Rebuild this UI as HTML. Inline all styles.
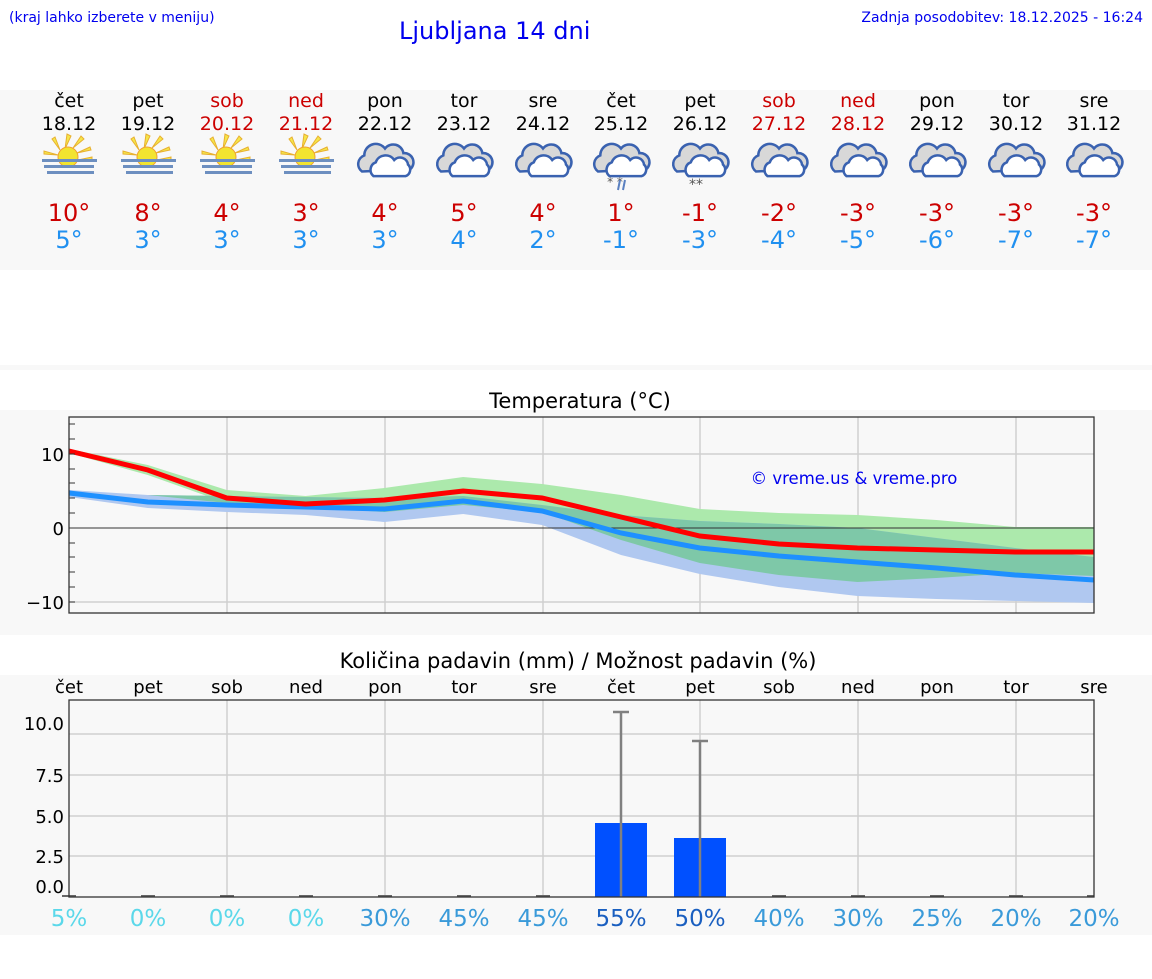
<!DOCTYPE html>
<html><head><meta charset="utf-8"><style>
body{margin:0;background:#fff;width:1152px;height:975px;overflow:hidden;font-family:"DejaVu Sans","Liberation Sans",sans-serif}
</style></head><body>
<svg width="1152" height="975" xmlns="http://www.w3.org/2000/svg" font-family="DejaVu Sans, Liberation Sans, sans-serif">
<defs>
<g id="sun">
 <g stroke="#e8b030" stroke-width="1">
  <g fill="#f5e64a">
  <polygon points="-3,-8 -1,-23 3,-21"/><polygon points="5,-9 13,-21 16,-18"/><polygon points="9,-4 22,-10 23,-7"/>
  <polygon points="-8,-7 -16,-18 -13,-20"/><polygon points="-10,-2 -24,-6 -24,-3"/><polygon points="10,3 24,0 24,3"/>
  </g>
  <circle cx="0" cy="0" r="10" fill="#f2e430" stroke="#f0a030"/>
 </g>
 <rect x="-26" y="2" width="55" height="3" fill="#6d8fc0"/>
 <rect x="-24" y="8" width="50" height="3" fill="#6d8fc0"/>
 <rect x="-21" y="14" width="47" height="3" fill="#6d8fc0"/>
</g>
<g id="cloud" stroke="#3a62b0" stroke-width="2.2" transform="scale(1.15)">
 <path d="M-20,10 a8,8 0 0 1 2,-14 a10,10 0 0 1 18,-6 a9,9 0 0 1 16,4 a8,8 0 0 1 6,14 z" fill="#d8d8d8"/>
 <path d="M-10,14 a7,7 0 0 1 2,-12 a9,9 0 0 1 16,-2 a7,7 0 0 1 12,4 a6,6 0 0 1 -2,10 z" fill="#fff"/>
</g>
</defs>
<text x="9" y="22" font-size="14" fill="#0000ee">(kraj lahko izberete v meniju)</text>
<text x="399" y="39" font-size="24" fill="#0000ee">Ljubljana 14 dni</text>
<text x="1143" y="22" font-size="14" fill="#0000ee" text-anchor="end">Zadnja posodobitev: 18.12.2025 - 16:24</text>
<rect x="0" y="90" width="1152" height="180" fill="#f8f8f8"/>
<rect x="0" y="365" width="1152" height="5" fill="#f8f8f8"/>
<g font-size="19" text-anchor="middle">
<g fill="#000"><text x="69" y="107">čet</text><text x="69" y="130">18.12</text><text x="148" y="107">pet</text><text x="148" y="130">19.12</text></g>
<g fill="#cc0000"><text x="227" y="107">sob</text><text x="227" y="130">20.12</text><text x="306" y="107">ned</text><text x="306" y="130">21.12</text></g>
<g fill="#000"><text x="385" y="107">pon</text><text x="385" y="130">22.12</text><text x="464" y="107">tor</text><text x="464" y="130">23.12</text><text x="543" y="107">sre</text><text x="543" y="130">24.12</text><text x="621" y="107">čet</text><text x="621" y="130">25.12</text><text x="700" y="107">pet</text><text x="700" y="130">26.12</text></g>
<g fill="#cc0000"><text x="779" y="107">sob</text><text x="779" y="130">27.12</text><text x="858" y="107">ned</text><text x="858" y="130">28.12</text></g>
<g fill="#000"><text x="937" y="107">pon</text><text x="937" y="130">29.12</text><text x="1016" y="107">tor</text><text x="1016" y="130">30.12</text><text x="1094" y="107">sre</text><text x="1094" y="130">31.12</text></g>
</g>
<use href="#sun" x="68" y="157"/><use href="#sun" x="147" y="157"/><use href="#sun" x="226" y="157"/><use href="#sun" x="305" y="157"/>
<use href="#cloud" x="385" y="160"/><use href="#cloud" x="464" y="160"/><use href="#cloud" x="543" y="160"/><use href="#cloud" x="621" y="160"/><use href="#cloud" x="700" y="160"/><use href="#cloud" x="779" y="160"/><use href="#cloud" x="858" y="160"/><use href="#cloud" x="937" y="160"/><use href="#cloud" x="1016" y="160"/><use href="#cloud" x="1094" y="160"/>
<text x="615" y="186" font-size="12" fill="#555" text-anchor="middle">*  *</text>
<line x1="620" y1="180" x2="618" y2="190" stroke="#5a80c0" stroke-width="2"/><line x1="625" y1="180" x2="623" y2="190" stroke="#5a80c0" stroke-width="2"/>
<text x="696" y="189" font-size="14" fill="#555" text-anchor="middle">**</text>
<g font-size="24" text-anchor="middle" fill="#cc0000">
<text x="69" y="221">10°</text><text x="148" y="221">8°</text><text x="227" y="221">4°</text><text x="306" y="221">3°</text><text x="385" y="221">4°</text><text x="464" y="221">5°</text><text x="543" y="221">4°</text><text x="621" y="221">1°</text><text x="700" y="221">-1°</text><text x="779" y="221">-2°</text><text x="858" y="221">-3°</text><text x="937" y="221">-3°</text><text x="1016" y="221">-3°</text><text x="1094" y="221">-3°</text>
</g>
<g font-size="24" text-anchor="middle" fill="#2090f0">
<text x="69" y="248">5°</text><text x="148" y="248">3°</text><text x="227" y="248">3°</text><text x="306" y="248">3°</text><text x="385" y="248">3°</text><text x="464" y="248">4°</text><text x="543" y="248">2°</text><text x="621" y="248">-1°</text><text x="700" y="248">-3°</text><text x="779" y="248">-4°</text><text x="858" y="248">-5°</text><text x="937" y="248">-6°</text><text x="1016" y="248">-7°</text><text x="1094" y="248">-7°</text>
</g>

<!-- Temperature -->
<rect x="0" y="410" width="1152" height="225" fill="#f8f8f8"/>
<text x="580" y="408" font-size="21" text-anchor="middle" fill="#000">Temperatura (°C)</text>
<g stroke="#d0d0d0" stroke-width="1.5">
<line x1="69" y1="454" x2="1094" y2="454"/><line x1="69" y1="602" x2="1094" y2="602"/>
<line x1="227" y1="417" x2="227" y2="613"/><line x1="385" y1="417" x2="385" y2="613"/><line x1="543" y1="417" x2="543" y2="613"/><line x1="700" y1="417" x2="700" y2="613"/><line x1="858" y1="417" x2="858" y2="613"/><line x1="1016" y1="417" x2="1016" y2="613"/>
</g>
<polygon fill="#ace9ac" points="69,449 147.8,465 226.7,490 305.5,496 384.4,488 463.2,477 542.1,484 621,495 699.8,509 778.7,513 857.5,515 936.4,520 1015.2,527 1094,527 1094,576 1015.2,573 936.4,578 857.5,582 778.7,575 699.8,563 621,540 542.1,512 463.2,505 384.4,512 305.5,507 226.7,503 147.8,475 69,453"/>
<polygon fill="#b0c8f0" points="69,490 147.8,495 226.7,496 305.5,497 384.4,498 463.2,496 542.1,505 621,515 699.8,521 778.7,524 857.5,528 936.4,538 1015.2,548 1094,557 1094,603 1015.2,601 936.4,599 857.5,596 778.7,587 699.8,574 621,555 542.1,525 463.2,514 384.4,522 305.5,515 226.7,512 147.8,508 69,497"/>
<polygon fill="#7ec8a8" points="147.8,495 226.7,496 305.5,497 384.4,498 463.2,496 542.1,505 621,515 699.8,521 778.7,524 857.5,528 936.4,538 1015.2,548 1094,557 1094,576 1015.2,573 936.4,578 857.5,582 778.7,575 699.8,563 621,540 542.1,512 463.2,505 384.4,512 305.5,507 226.7,503"/>
<line x1="69" y1="528" x2="1094" y2="528" stroke="#333" stroke-width="1"/>
<polyline fill="none" stroke="#1e90ff" stroke-width="5" points="69,493 147.8,502 226.7,505 305.5,507 384.4,509 463.2,501 542.1,511 621,533 699.8,548 778.7,556 857.5,562 936.4,568 1015.2,575 1094,580"/>
<polyline fill="none" stroke="#ff0000" stroke-width="5" points="69,451 147.8,470 226.7,498 305.5,504 384.4,500 463.2,491 542.1,498 621,517 699.8,536 778.7,544 857.5,548 936.4,550 1015.2,552 1094,552"/>
<rect x="69" y="417" width="1025" height="196" fill="none" stroke="#333" stroke-width="1.3"/>
<g stroke="#333" stroke-width="1">
<line x1="69" y1="424" x2="75" y2="424"/><line x1="69" y1="439" x2="75" y2="439"/><line x1="69" y1="454" x2="75" y2="454"/><line x1="69" y1="469" x2="75" y2="469"/><line x1="69" y1="483" x2="75" y2="483"/><line x1="69" y1="498" x2="75" y2="498"/><line x1="69" y1="513" x2="75" y2="513"/><line x1="69" y1="543" x2="75" y2="543"/><line x1="69" y1="557" x2="75" y2="557"/><line x1="69" y1="572" x2="75" y2="572"/><line x1="69" y1="587" x2="75" y2="587"/><line x1="69" y1="602" x2="75" y2="602"/>
</g>
<g font-size="18" text-anchor="end" fill="#000"><text x="64" y="461">10</text><text x="64" y="535">0</text><text x="64" y="609">−10</text></g>
<text x="854" y="484" font-size="16.5" fill="#0000ee" text-anchor="middle">© vreme.us &amp; vreme.pro</text>

<!-- Precipitation -->
<rect x="0" y="675" width="1152" height="260" fill="#f8f8f8"/>
<text x="578" y="668" font-size="21" text-anchor="middle" fill="#000">Količina padavin (mm) / Možnost padavin (%)</text>
<g font-size="18" text-anchor="middle" fill="#000">
<text x="69" y="693">čet</text><text x="148" y="693">pet</text><text x="227" y="693">sob</text><text x="306" y="693">ned</text><text x="385" y="693">pon</text><text x="464" y="693">tor</text><text x="543" y="693">sre</text><text x="621" y="693">čet</text><text x="700" y="693">pet</text><text x="779" y="693">sob</text><text x="858" y="693">ned</text><text x="937" y="693">pon</text><text x="1016" y="693">tor</text><text x="1094" y="693">sre</text>
</g>
<g stroke="#d0d0d0" stroke-width="1.5">
<line x1="69" y1="734" x2="1094" y2="734"/><line x1="69" y1="775" x2="1094" y2="775"/><line x1="69" y1="816" x2="1094" y2="816"/><line x1="69" y1="856" x2="1094" y2="856"/>
<line x1="227" y1="700" x2="227" y2="897"/><line x1="385" y1="700" x2="385" y2="897"/><line x1="543" y1="700" x2="543" y2="897"/><line x1="700" y1="700" x2="700" y2="897"/><line x1="858" y1="700" x2="858" y2="897"/><line x1="1016" y1="700" x2="1016" y2="897"/>
</g>
<rect x="595" y="823" width="52" height="74" fill="#0050ff"/>
<rect x="674" y="838" width="52" height="59" fill="#0050ff"/>
<g stroke="#808080" stroke-width="2.5">
<line x1="621" y1="712" x2="621" y2="897"/><line x1="613" y1="712" x2="629" y2="712"/>
<line x1="700" y1="741" x2="700" y2="897"/><line x1="692" y1="741" x2="708" y2="741"/>
</g>
<g stroke="#666" stroke-width="2">
<line x1="62" y1="896" x2="76" y2="896"/><line x1="141" y1="896" x2="155" y2="896"/><line x1="220" y1="896" x2="234" y2="896"/><line x1="299" y1="896" x2="313" y2="896"/><line x1="378" y1="896" x2="392" y2="896"/><line x1="457" y1="896" x2="471" y2="896"/><line x1="536" y1="896" x2="550" y2="896"/><line x1="772" y1="896" x2="786" y2="896"/><line x1="851" y1="896" x2="865" y2="896"/><line x1="930" y1="896" x2="944" y2="896"/><line x1="1009" y1="896" x2="1023" y2="896"/><line x1="1087" y1="896" x2="1094" y2="896"/>
</g>
<rect x="69" y="700" width="1025" height="197" fill="none" stroke="#333" stroke-width="1.3"/>
<g font-size="18" text-anchor="end" fill="#000"><text x="64" y="730">10.0</text><text x="64" y="782">7.5</text><text x="64" y="823">5.0</text><text x="64" y="863">2.5</text><text x="64" y="893">0.0</text></g>
<g font-size="23" text-anchor="middle">
<g fill="#5bd8ea"><text x="69" y="926">5%</text><text x="148" y="926">0%</text><text x="227" y="926">0%</text><text x="306" y="926">0%</text></g>
<g fill="#3a9ad9"><text x="385" y="926">30%</text><text x="464" y="926">45%</text><text x="543" y="926">45%</text></g>
<g fill="#1a5fc0"><text x="621" y="926">55%</text><text x="700" y="926">50%</text></g>
<g fill="#3a9ad9"><text x="779" y="926">40%</text><text x="858" y="926">30%</text><text x="937" y="926">25%</text><text x="1016" y="926">20%</text><text x="1094" y="926">20%</text></g>
</g>
</svg>
</body></html>
